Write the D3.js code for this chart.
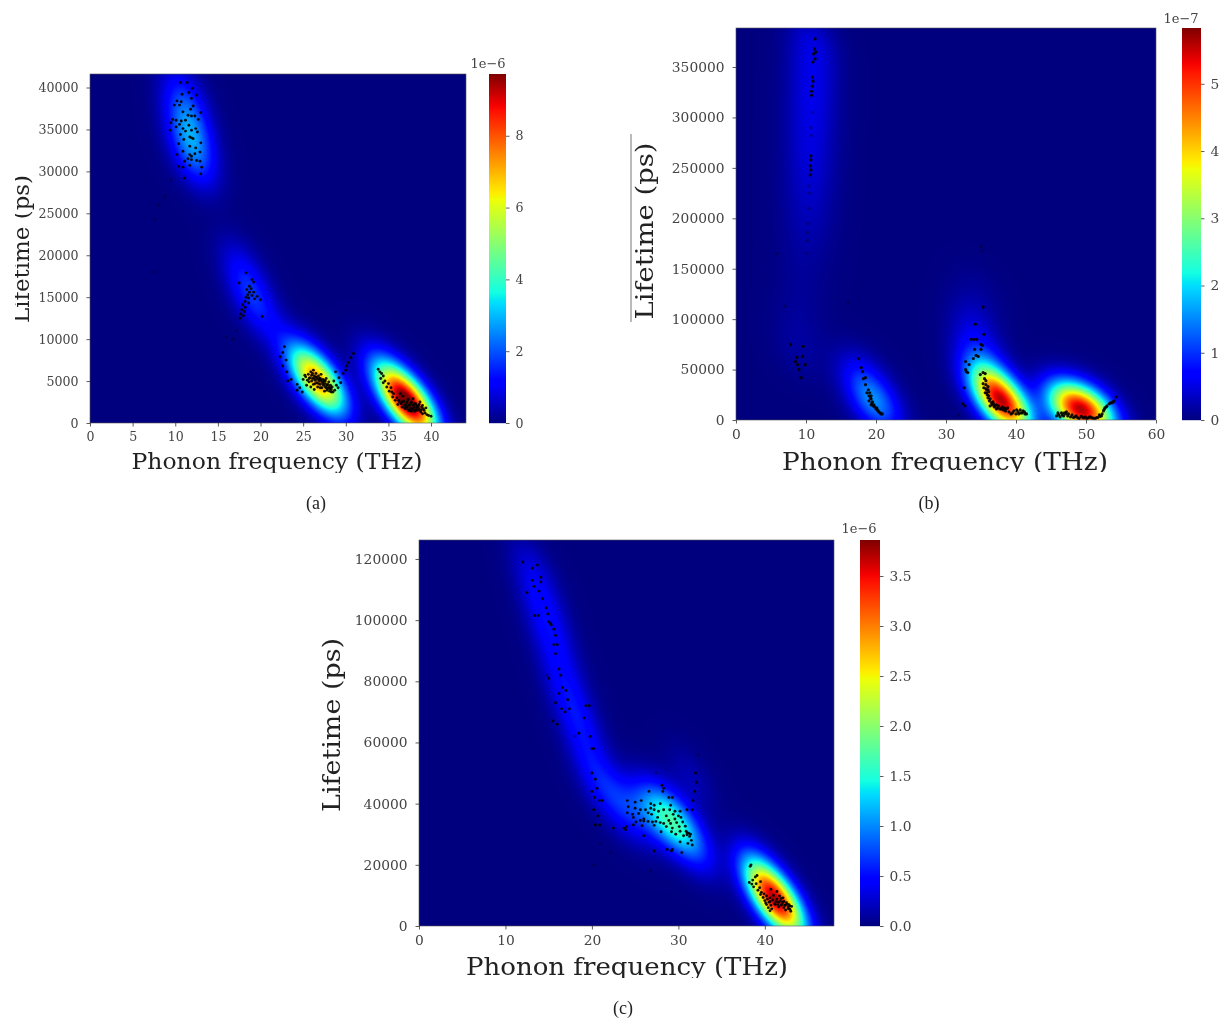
<!DOCTYPE html>
<html><head><meta charset="utf-8">
<script src="https://cdn.jsdelivr.net/npm/d3@7"></script>
<style>
html,body{margin:0;padding:0;background:#fff;}
#wrap{position:relative;width:1225px;height:1021px;overflow:hidden;filter:blur(0.55px);}
canvas{position:absolute;}
svg{position:absolute;left:0;top:0;}
text{font-family:"DejaVu Serif",serif;}
</style></head><body><div id="wrap"></div>
<script>
const xTicksA=[0,5,10,15,20,25,30,35,40];
const yTicksA=[0,5000,10000,15000,20000,25000,30000,35000,40000];
const cTicksA=[0,2,4,6,8];
const xTicksB=[0,10,20,30,40,50,60];
const yTicksB=[0,50000,100000,150000,200000,250000,300000,350000];
const cTicksB=[0,1,2,3,4,5];
const xTicksC=[0,10,20,30,40];
const yTicksC=[0,20000,40000,60000,80000,100000,120000];
const cTicksC=[0,0.5,1,1.5,2,2.5,3,3.5];

// density kernels: [frequency, lifetime, weight]
const bandA=[1.9,2500,-0.5];
const kernelsA=[[35.3,4600,2.7],[36.6,3200,3.8],[37.8,1900,3.8],[39,700,2.5],[33.5,6800,0.65],
[25,6800,1.75],[26.1,5700,2.65],[27.2,4600,2.65],[28.4,3300,1.95],
[11,40000,0.65],[11.3,37500,1],[11.7,35000,1.45],[12,32500,1.25],[12.2,30500,0.7],
[17.5,19500,0.42],[18.3,17000,0.62],[19,15000,0.75],[20,12800,0.55],[22.5,10000,0.35]];
const bandB=[2.5,18000,-0.4];
const kernelsB=[[35.7,42000,1.2],[36.8,30000,1.65],[37.9,19000,1.85],[39,9000,1.72],[40,1000,0.9],[34.5,70000,0.55],[34,100000,0.27],[34.5,130000,0.09],
[46.8,15000,1.5],[48.5,12000,2.1],[50.2,9000,2.15],[52,6000,1.3],
[17.5,50000,0.27],[18.5,35000,0.43],[19.5,22000,0.62],[20.5,8000,0.7],
[11,385000,0.2],[11,370000,0.2],[11,355000,0.2],[10.9,340000,0.2],[10.9,325000,0.2],[10.8,310000,0.2],[10.7,295000,0.19],[10.6,280000,0.18],[10.6,265000,0.17],[10.5,250000,0.17],[10.4,235000,0.14],[10.3,220000,0.13],[10.2,205000,0.11],[10,190000,0.09],[9.8,175000,0.07],[9.6,160000,0.06],[9.5,140000,0.06],[9.2,120000,0.06],[9,100000,0.07],[9,80000,0.09],[9,60000,0.09]];
const bandC=[1.9,7500,-0.55];
const kernelsC=[[39.2,15500,0.82],[40.3,11500,1.18],[41.4,8000,1.26],[42.5,5000,1.05],[43.4,2500,0.35],
[24,36000,0.23],[26,38000,0.41],[28,37000,0.66],[29.5,34000,0.73],[31,30000,0.48],[32.5,25000,0.23],
[13,118000,0.2],[14,108000,0.27],[15,98000,0.29],[16,88000,0.25],[17,78000,0.25],[18,70000,0.25],[19,62000,0.23],[20,53000,0.23],[21,45000,0.23],[23,42000,0.23],[31.5,48000,0.16]];

// scatter points: [frequency, lifetime]
const pointsA=[[10.6,40600],[11.4,40600],[12,39900],[11.6,39400],[12.5,39100],[10.8,39200],[11.9,38700],[10.2,38400],[10.7,38300],[9.9,37900],[10.5,37900],[12.1,37800],[11.8,37400],[10.9,37100],[13,37000],[11.5,36700],[11.9,36600],[12.3,36600],[9.7,36200],[10.1,36100],[10.7,36000],[11.2,36100],[12.7,36200],[9.5,35800],[10.5,35600],[11.6,35500],[10.1,35300],[10.9,35100],[12.4,35100],[9.4,34900],[11.2,34800],[11.9,34900],[10.6,34400],[12.6,34700],[11.7,34100],[11.9,34000],[12.1,33900],[11,33800],[10.4,33300],[13,33400],[11.7,33000],[12.4,32800],[10.9,32400],[12.9,32300],[10.2,32000],[11.7,32000],[11.9,31800],[12.3,32100],[11.5,31500],[11.9,31400],[12.5,31300],[11.1,31200],[12.9,31200],[10.4,30600],[10.9,30500],[11.7,30700],[13.1,30500],[13,29700],[11.1,29200],
[17.5,16700],[18.3,17900],[19,17100],[19.2,16800],[18.7,16300],[18.9,16000],[18.4,15900],[18.7,15600],[19.2,15600],[18.5,15300],[19,15200],[18.3,15000],[19.6,15100],[18.6,14900],[19.3,14800],[20,14700],[18.2,14500],[18.6,14300],[17.9,14100],[18.2,13800],[17.8,13500],[18.1,13300],[17.7,13000],[18,12800],[17.6,12500],[20.2,12700],
[22.8,9100],[22.6,8400],[22.3,7900],[23,7500],[22.6,6800],[23.1,6100],[23.6,5200],[23.2,5000],[24.3,4600],[24.6,4200],[24.9,3700],[24.3,3900],
[30.9,8300],[30.6,7800],[30.3,7200],[30.1,6800],[30,6300],[29.7,5900],[28.8,6100],[29.2,5400],[28.6,5000],[29.4,4800],[29.1,4200],[28.9,4500],
[25,5200],[25.3,5500],[25.5,5100],[25.6,5800],[25.7,4900],[25.8,5400],[25.9,6100],[26,5700],[26,5000],[26.1,5300],[26.2,6300],[26.2,4600],[26.3,5600],[26.4,5100],[26.5,5900],[26.6,4800],[26.6,5400],[26.7,4300],[26.8,5600],[26.9,5000],[27,4600],[27,5300],[27.1,5800],[27.2,4200],[27.2,4900],[27.3,5200],[27.4,4500],[27.5,5100],[27.6,4700],[27.7,4200],[27.7,5300],[27.8,3900],[27.9,4600],[28,4300],[28,4900],[28.1,3800],[28.2,4500],[28.3,4000],[28.4,4300],[28.5,3700],[25.4,4500],[25.9,4300],[26.3,4000],[27.5,3800],[28.7,3900],
[25.2,5700],[25.7,5300],[26.1,5900],[26.3,5300],[26.5,5500],[26.7,5200],[26.9,5300],[27.1,5100],[27.3,4700],[27.4,4900],[27.6,5000],[27.8,4500],[27.9,4100],[28.1,4100],[28.2,4200],[28.3,3700],[26.4,4700],[26.8,4700],[27,4200],[27.6,4300],
[33.8,6400],[34,6100],[34.2,5900],[34.4,5600],[34.1,5300],[34.6,5000],[34.4,4800],[35,4700],[34.8,4300],[35.3,4200],[35.1,3800],[35.6,3500],[35.5,3100],[36,3000],[35.8,2700],[36.3,2500],[36.1,2200],[36.5,2300],[36.6,1900],[36.8,2600],[36.9,2100],[37,1700],[37.1,2300],[37.2,1900],[37.3,2800],[37.4,1500],[37.5,2200],[37.6,1800],[37.7,2500],[37.8,1600],[37.9,2100],[38,1900],[38.1,1400],[38.2,2300],[38.3,1800],[38.4,1500],[38.5,2000],[38.6,1700],[38.7,2500],[38.8,1300],[38.9,1900],[39,1100],[39.2,1500],[39.4,1800],[39.5,1000],[39.7,900],[40,800],[36.7,3200],[36.4,3500],[37.9,2900],
[36.6,2500],[36.9,1800],[37.1,2000],[37.3,1600],[37.4,2100],[37.6,2300],[37.7,1400],[37.9,1700],[38,2300],[38.2,1600],[38.3,2100],[38.4,1900],[38.6,2200],[38.7,1500],[38.9,1600],[39,2100],[39.1,1700],[37.5,1500],[37.2,2500],[36.2,2700],[35.4,3700],[39.3,1200]];
const faintA=[[8.8,27000],[8.1,26000],[7.6,24300],[7.5,18000],[16,10300],[16.8,10000],[17.2,11000],[9.5,29000]];
const pointsB=[[11.3,378000],[11.2,368000],[11.4,365000],[11.1,363000],[11.3,358000],[11,355000],[10.9,340000],[11,336000],[10.9,331000],[10.8,326000],[10.8,322000],[10.7,262000],[10.7,258000],[10.6,252000],[10.7,248000],[10.6,243000],[7.8,75000],[9.6,73000],[8.7,62000],[9.5,63000],[8.5,58000],[8.8,55000],[9.9,55000],[9,50000],[9.3,42000],[35.3,112000],[34.2,95000],[35.4,85000],[33.6,80000],[34,80000],[34.4,80000],[35,75000],[35.2,74000],[34.1,70000],[35,70000],[34.3,64000],[34.6,63000],[33.9,61000],[32.8,58000],[33.3,55000],[32.8,50000],[32.9,48000],[33.1,47000],[32.6,32000],[32.4,16000],[32.7,14000],
[17.5,61000],[17.9,52000],[18.1,48000],[18.5,42000],[18.2,41000],[18.5,35000],[18.9,30000],[18.7,27000],[19.1,27000],[19,24000],[19.3,24000],[19.3,21000],[19,19000],[19.4,17000],[19.3,15000],[19.6,14000],[19.8,13000],[20,11000],[20.2,10000],[20.4,8000],[20.7,6000],[20.9,6000],[19.2,22000],[19.5,18000],[19.7,15000],[20.1,12000],[20.3,9000],[20.6,7000],
[34.9,45000],[35.3,47000],[35.6,46000],[35.5,41000],[35.7,39000],[35.3,36000],[35.7,35000],[36,33000],[35.4,32000],[35.8,30000],[36.1,28000],[35.6,27000],[35.9,25000],[36,22000],[36.2,19000],[36.5,17000],[36.8,16000],[36.3,14000],[36.9,13000],[37.2,15000],[37.5,14000],[37.2,11000],[37.7,11000],[38,13000],[38.2,10000],[38.5,9000],[38.8,12000],[39,8000],[39.3,6000],[39.7,9000],[40,6000],[40.3,8000],[40.6,10000],[40.9,7000],[41.2,8000],[41.5,6000],[40.1,10000],
[35.7,31000],[36,30000],[35.8,27000],[36.1,24000],[36.3,21000],[36.6,15000],[36.7,18000],[37,14000],[37.4,12000],[37.9,11000],[38.3,12000],[38.6,11000],[39.5,7000],[40.4,6000],[40.7,7000],[41,9000],[41.3,6000],
[45.8,4000],[46,7000],[46.3,3000],[46.6,5000],[46.9,7000],[47.2,8000],[47.5,6000],[47.8,3000],[48.2,2500],[48.6,4000],[49,1500],[49.3,3500],[49.7,2000],[50.1,1500],[50.5,3000],[50.9,2000],[51.3,1500],[51.7,2500],[52,3500],[52.3,6000],[52.5,9000],[52.7,12000],[53,14000],[53.3,16000],[53.7,17000],[54,19000],[54.3,23000],
[46.1,5000],[46.5,7000],[46.8,4000],[47.1,6000],[47.4,4000],[48,5000],[48.4,3000],[48.8,2500],[49.5,2800],[49.9,3200],[50.3,2200],[50.7,2800],[51.1,1800],[51.5,2400],[51.9,5000],[52.2,4000],[52.6,10500],[52.9,13000],[53.5,17000],[53.9,18000]];
const faintB=[[10.9,305000],[10.7,290000],[10.8,282000],[10.5,225000],[10.4,210000],[10.3,195000],[10.2,178000],[10.1,165000],[5.8,165000],[7,113000],[16,117000],[35,172000],[31.8,5000],[10.4,232000],[10.2,186000],[35.2,168000]];
const pointsC=[[12,119000],[13.1,117000],[13.7,118000],[14.1,114000],[13.1,113000],[14.1,112500],[13.3,111000],[13.9,109500],[12.5,109000],[14.3,107000],[14.7,104000],[13.4,101500],[13.8,101500],[14.9,102000],[15,99500],[15.2,99000],[15.3,98500],[15.6,97000],[15.8,95000],[15.6,92000],[16,92000],[15.8,89000],[16.2,84000],[16.4,82000],[15,81000],[16.6,78000],[17,77000],[16.2,76000],[17.2,74000],[15.8,73000],[16.5,71000],[16.9,70000],[17.4,71000],[19.3,72000],[19.7,72000],[19.1,68000],[15.5,67000],[16,66000],[18.5,63000],[19.8,62000],[20,58000],[20.2,58000],[20,50000],[20.4,48000],[20.6,45000],[20,44000],[20.3,42000],[20.9,41000],[21.2,41000],[20.2,38000],[20.7,36000],[20.4,33000],[20.9,33000],[22.5,32000],[23.7,32000],[24,32500],[23.9,31500],[32,50000],[32.1,47000],[31.9,44000],[31.7,41000],[31.6,38000],
[24.1,41000],[25,40500],[25.7,41000],[26.6,44000],[28.1,46000],[28.3,45000],[28.2,44000],[28.9,42000],[29.3,42000],[26.8,40000],[27.2,39500],[27.9,40000],[29.1,39500],[24.2,39000],[25,38500],[25.6,38000],[26.2,38000],[26.8,38500],[27.2,38000],[27.7,37500],[28.3,38000],[29,38000],[29.6,37500],[30.2,37500],[24.1,37000],[24.7,36500],[25.4,36800],[26.5,37000],[26.9,36500],[28.6,36000],[29.4,36500],[30,36000],[31,38000],[24.8,35500],[26,35000],[27.6,35500],[28.9,34500],[29.6,35000],[30.3,35500],[25.1,34000],[25.6,34500],[26,34300],[26.5,34200],[27,34000],[27.4,34200],[27.9,33800],[28.3,33500],[29.1,33500],[29.8,33800],[30.5,34000],[24.8,33000],[25.8,32800],[27.2,32900],[28.6,32500],[29.3,32000],[30.1,32500],[30.8,32600],[30.2,31000],[30.9,31000],[31,30500],[31.2,30300],[31.4,30000],[31,29800],[31.3,29300],[30.6,29500],[29.7,30000],[29.2,30800],[28,30800],[26,29500],[31.5,28000],[31.1,27000],[30.2,27500],[31.6,26500],[28.7,25000],[29.3,25000],[29.2,24500],[30.4,24000],[27.2,24500],
[38.4,20000],[38.3,19500],[39.1,16500],[38.9,16000],[38.6,15000],[38.2,14200],[38.5,13700],[39,13800],[38.7,12800],[39.5,14500],[39.4,12500],[39.2,11700],[39.6,11000],[39.9,10500],[39.5,10300],[40.2,9800],[39.8,9300],[40.3,8800],[40.6,9200],[40,8300],[40.5,7800],[40.9,8500],[40.2,7000],[40.7,6800],[41.1,7300],[40.4,6000],[40.8,5600],[41.3,8000],[41.5,7000],[41.8,8200],[41.6,6300],[42,7300],[42.2,8100],[42.3,6700],[42.5,7600],[42.7,6200],[42.8,7000],[42.9,5500],[43.1,6400],[42.4,5200],[43,4800],[41,10000],[41.7,9800],[42.1,9200],[41.4,11300],[40.7,12000],
[41.2,7000],[41.6,7800],[41.9,6800],[42.1,7800],[42.4,6900],[42.6,7100],[42.7,5700],[42.2,6000],[41.4,8800],[41.9,9000],[40.6,8000],[40.1,7500],[40.6,5000],[42.9,6500]];
const faintC=[[32.3,56000],[27.4,50000],[22.2,24000],[20.2,20000],[26.8,18000],[21,27000],[18,62000],[14.8,82000]];

const jetStops=[0,0.11,0.125,0.34,0.35,0.375,0.64,0.65,0.66,0.89,0.91,1];
const jetColors=["#00007f","#0000ff","#0000ff","#00dbff","#00e5f7","#14ffe2","#eeff08","#f7f500","#ffec00","#ff1300","#f60000","#7f0000"];
const jet=d3.scaleLinear().domain(jetStops).range(jetColors).clamp(true);

const panels=[
{l:90,r:466,t:74,b:423,xMax:44.1,yMax:41610,cMax:9.72,cbL:489,cbR:506,xTicks:xTicksA,yTicks:yTicksA,cTicks:cTicksA,cFmt:d=>d,band:bandA,kernels:kernelsA,points:pointsA,faint:faintA,
 fs:12.6,off:"1e\u22126",offX:488,offY:68,xl:{x:277,y:469,size:23,len:291,clip:473},yl:{x:29,y:249,size:23,len:148,clip:15},cap:["(a)",316,509],r0:1.45},
{l:736,r:1156,t:28,b:420,xMax:60,yMax:388700,cMax:5.83,cbL:1182,cbR:1201,xTicks:xTicksB,yTicks:yTicksB,cTicks:cTicksB,cFmt:d=>d,band:bandB,kernels:kernelsB,points:pointsB,faint:faintB,
 fs:13.8,off:"1e\u22127",offX:1181,offY:23,xl:{x:945,y:470,size:25,len:326,clip:472},yl:{x:653,y:231,size:25,len:177,clip:632},cap:["(b)",929,509],r0:1.6},
{l:419,r:834,t:540,b:926,xMax:48,yMax:126200,cMax:3.86,cbL:860,cbR:880,xTicks:xTicksC,yTicks:yTicksC,cTicks:cTicksC,cFmt:d3.format(".1f"),band:bandC,kernels:kernelsC,points:pointsC,faint:faintC,
 fs:13.8,off:"1e\u22126",offX:859,offY:533,xl:{x:627,y:975,size:25,len:322,clip:978},yl:{x:340,y:725,size:25,len:174,clip:321},cap:["(c)",623,1014],r0:1.45}
];

const wrap=d3.select("#wrap");
const svg=wrap.append("svg").attr("width",1225).attr("height",1021);
const defs=svg.append("defs");
defs.append("filter").attr("id","soft").append("feGaussianBlur").attr("stdDeviation",0.45);

panels.forEach((p,i)=>{
  const x=d3.scaleLinear().domain([0,p.xMax]).range([p.l,p.r]);
  const y=d3.scaleLinear().domain([0,p.yMax]).range([p.b,p.t]);
  const c=d3.scaleLinear().domain([0,p.cMax]).range([p.b,p.t]);
  const jetN=v=>jet(v/p.cMax);
  const w=p.r-p.l,h=p.b-p.t;
  const cv=wrap.insert("canvas","svg").attr("width",w).attr("height",h).style("left",p.l+"px").style("top",p.t+"px").node();
  const ctx=cv.getContext("2d");
  const img=ctx.createImageData(w,h);
  const [sx,sy,rho]=p.band, q=1-rho*rho;
  for(let j=0;j<h;j++){const fy=y.invert(p.t+j+.5);
    for(let k=0;k<w;k++){const fx=x.invert(p.l+k+.5);
      let v=0;
      for(const [kx,ky,kw] of p.kernels){const dx=(fx-kx)/sx,dy=(fy-ky)/sy;
        v+=kw*Math.exp(-(dx*dx+dy*dy-2*rho*dx*dy)/(2*q));}
      const col=d3.rgb(jetN(v));const o=(j*w+k)*4;
      img.data[o]=col.r;img.data[o+1]=col.g;img.data[o+2]=col.b;img.data[o+3]=255;}}
  ctx.putImageData(img,0,0);

  const g=svg.append("g");
  const pts=g.append("g").attr("filter","url(#soft)");
  pts.append("g").selectAll("circle").data(p.faint).join("circle")
    .attr("cx",d=>x(d[0])).attr("cy",d=>y(d[1])).attr("r",p.r0).attr("fill","#000").attr("fill-opacity",.35);
  pts.append("g").selectAll("circle").data(p.points).join("circle")
    .attr("cx",d=>x(d[0])).attr("cy",d=>y(d[1])).attr("r",p.r0).attr("fill","#000").attr("fill-opacity",.9);
  g.append("rect").attr("x",p.l).attr("y",p.t).attr("width",w).attr("height",h).attr("fill","none").attr("stroke","#555").attr("stroke-width",.6);
  const style=a=>{a.selectAll("text").attr("font-size",p.fs).attr("fill","#444").attr("font-family",'"DejaVu Serif"');
    a.selectAll("line").attr("stroke","#333").attr("stroke-width",.8);a.select(".domain").remove();};
  g.append("g").attr("transform",`translate(0,${p.b})`).call(d3.axisBottom(x).tickValues(p.xTicks).tickFormat(d=>d).tickSize(3.5).tickPadding(6)).call(style);
  g.append("g").attr("transform",`translate(${p.l},0)`).call(d3.axisLeft(y).tickValues(p.yTicks).tickFormat(d=>d).tickSize(3.5).tickPadding(8)).call(style);
  const rows=d3.range(p.t,p.b);
  g.append("g").selectAll("rect").data(rows).join("rect").attr("x",p.cbL).attr("y",d=>d).attr("width",p.cbR-p.cbL).attr("height",1.2).attr("fill",d=>jetN(c.invert(d+.5)));
  g.append("g").attr("transform",`translate(${p.cbR},0)`).call(d3.axisRight(c).tickValues(p.cTicks).tickFormat(p.cFmt).tickSize(3.5).tickPadding(6)).call(style);
  g.append("text").attr("x",p.offX).attr("y",p.offY).attr("text-anchor","middle").attr("font-size",13).attr("fill","#444").text(p.off);
  defs.append("clipPath").attr("id","cx"+i).append("rect").attr("x",0).attr("y",0).attr("width",1225).attr("height",p.xl.clip);
  defs.append("clipPath").attr("id","cy"+i).append("rect").attr("x",p.yl.clip).attr("y",0).attr("width",1225).attr("height",1021);
  g.append("g").attr("clip-path",`url(#cx${i})`).append("text").attr("x",p.xl.x).attr("y",p.xl.y).attr("text-anchor","middle").attr("font-size",p.xl.size).attr("textLength",p.xl.len).attr("lengthAdjust","spacingAndGlyphs").attr("fill","#222").text("Phonon frequency (THz)");
  g.append("g").attr("clip-path",`url(#cy${i})`).append("text").attr("transform",`translate(${p.yl.x},${p.yl.y}) rotate(-90)`).attr("text-anchor","middle").attr("font-size",p.yl.size).attr("textLength",p.yl.len).attr("lengthAdjust","spacingAndGlyphs").attr("fill","#222").text("Lifetime (ps)");
  g.append("text").attr("x",p.cap[1]).attr("y",p.cap[2]).attr("text-anchor","middle").attr("font-size",18).attr("fill","#222").style("font-family",'"Liberation Serif"').text(p.cap[0]);
});
svg.append("line").attr("x1",631).attr("x2",631).attr("y1",134).attr("y2",322).attr("stroke","#777").attr("stroke-width",1);
</script></body></html>
